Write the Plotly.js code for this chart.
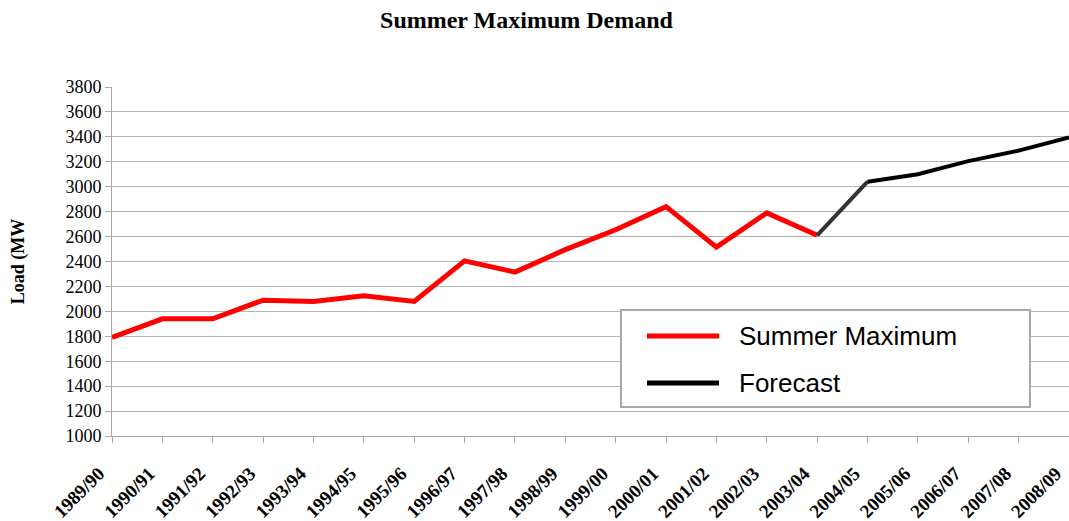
<!DOCTYPE html>
<html>
<head>
<meta charset="utf-8">
<script src="https://cdn.plot.ly/plotly-3.0.1.min.js"></script>
<style>html,body{margin:0;padding:0;background:#fff;}#chart{width:1069px;height:521px;}</style>
</head>
<body>
<div id="chart"></div>
<script>
const years = ["1989/90","1990/91","1991/92","1992/93","1993/94","1994/95","1995/96","1996/97","1997/98","1998/99","1999/00","2000/01","2001/02","2002/03","2003/04","2004/05","2005/06","2006/07","2007/08","2008/09"];
const actualYears = years.slice(0, 15);
const actualLoad = [1790, 1940, 1940, 2090, 2080, 2125, 2080, 2405, 2315, 2495, 2655, 2840, 2515, 2790, 2610];
const forecastYears = years.slice(14);
const forecastLoad = [2610, 3040, 3100, 3205, 3290, 3395];
const seriesNames = ['Summer Maximum', 'Forecast'];
const seriesColors = ['#ff0000', '#000000'];

const traces = [
  {x: actualYears, y: actualLoad, type: 'scatter', mode: 'lines', name: seriesNames[0],
   showlegend: false, line: {color: seriesColors[0], width: 5}},
  {x: forecastYears.slice(0, 2), y: forecastLoad.slice(0, 2), type: 'scatter', mode: 'lines', name: seriesNames[1],
   showlegend: false, line: {color: '#333333', width: 4}},
  {x: forecastYears.slice(1), y: forecastLoad.slice(1), type: 'scatter', mode: 'lines', name: seriesNames[1],
   showlegend: false, line: {color: seriesColors[1], width: 4}}
];

// custom legend box (pixel -> paper conversion relative to plot area)
const L = 112, W = 957, B = 436, H = 349;
const px = v => (v - L) / W;
const py = v => (B - v) / H;
const legendShapes = [
  {type: 'rect', xref: 'paper', yref: 'paper', x0: px(621), x1: px(1030), y0: py(407), y1: py(310),
   fillcolor: '#ffffff', line: {color: '#a8a8a8', width: 2}, layer: 'above'},
  {type: 'line', xref: 'paper', yref: 'paper', x0: px(647), x1: px(719), y0: py(336), y1: py(336),
   line: {color: seriesColors[0], width: 5}, layer: 'above'},
  {type: 'line', xref: 'paper', yref: 'paper', x0: px(647), x1: px(719), y0: py(383), y1: py(383),
   line: {color: seriesColors[1], width: 5}, layer: 'above'}
];
const legendText = seriesNames.map((n, i) => ({
  text: n, xref: 'paper', yref: 'paper', x: px(737), y: py(i === 0 ? 336 : 383),
  xanchor: 'left', yanchor: 'middle', showarrow: false,
  font: {family: 'Liberation Sans', size: 26, color: '#000'}
}));

const layout = {
  width: 1069, height: 521,
  margin: {l: 112, r: 0, t: 87, b: 85},
  paper_bgcolor: '#ffffff', plot_bgcolor: '#ffffff',
  showlegend: false,
  title: {text: '<b>Summer Maximum Demand</b>', font: {family: 'Liberation Serif', size: 24, color: '#000'},
          xref: 'container', x: 0.4925, xanchor: 'center', yref: 'container', y: 0.963, yanchor: 'middle'},
  xaxis: {type: 'category', range: [0, 19], showgrid: false, zeroline: false,
          showline: true, linecolor: '#a8a8a8', linewidth: 1,
          ticks: 'outside', ticklen: 6, tickcolor: '#a8a8a8',
          tickangle: -45, ticklabelstandoff: 12, ticklabelshift: -13,
          tickfont: {family: 'Liberation Serif', size: 19, color: '#000', weight: 'bold'}},
  yaxis: {range: [1000, 3800], dtick: 200, showgrid: true, gridcolor: '#b4b4b4', gridwidth: 1,
          zeroline: false, showline: true, linecolor: '#a8a8a8', linewidth: 1,
          ticks: 'outside', ticklen: 6, tickcolor: '#a8a8a8',
          tickfont: {family: 'Liberation Serif', size: 18, color: '#000'},
          title: {text: '<b>Load (MW</b>', standoff: 36, font: {family: 'Liberation Serif', size: 18, color: '#000'}}},
  shapes: legendShapes,
  annotations: legendText
};

Plotly.newPlot('chart', traces, layout, {displayModeBar: false, staticPlot: true});
</script>
</body>
</html>
